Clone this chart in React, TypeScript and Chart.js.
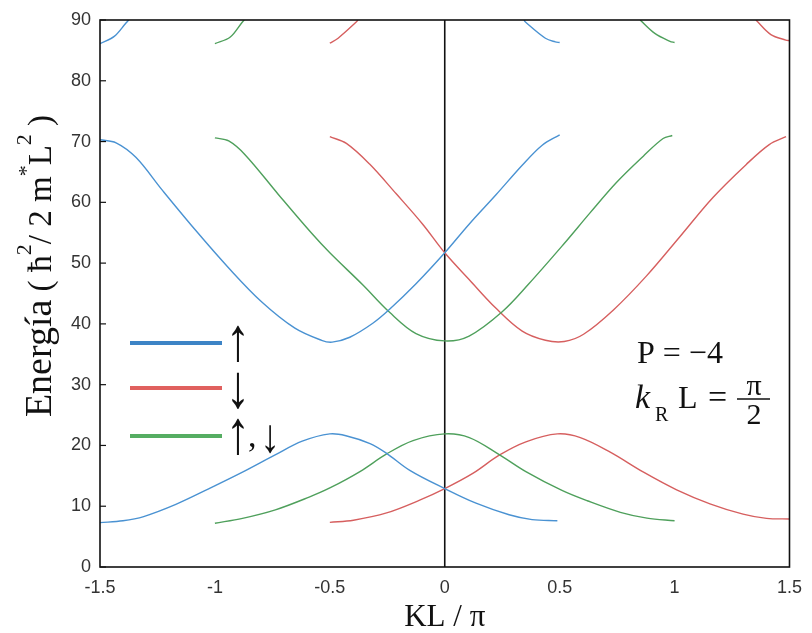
import React, { useEffect, useRef } from 'react';
import { Chart, registerables } from 'chart.js';

Chart.register(...registerables);

type Pt = [number, number];

// Axis definitions
const xMin = -1.5;
const xMax = 1.5;
const xStep = 0.5;
const yMin = 0;
const yMax = 90;
const yStep = 10;

// Band 1 (lower band)
const blueBand1: Pt[] = [
  [-1.5, 7.3], [-1.4, 7.6], [-1.31, 8.3], [-1.17, 10.3], [-1.025, 12.9], [-0.88, 15.6],
  [-0.74, 18.4], [-0.62, 20.7], [-0.5, 21.9], [-0.43, 21.6], [-0.325, 20.3], [-0.253, 18.7],
  [-0.152, 15.9], [0, 12.9], [0.136, 10.5], [0.28, 8.6], [0.38, 7.8], [0.49, 7.6],
];
const greenBand1: Pt[] = [
  [-1.0, 7.2], [-0.88, 8.0], [-0.737, 9.4], [-0.59, 11.5], [-0.5, 13.0], [-0.369, 15.7],
  [-0.253, 18.6], [-0.138, 20.8], [0, 21.9], [0.107, 21.3], [0.237, 18.5], [0.353, 15.7],
  [0.51, 12.6], [0.62, 10.9], [0.764, 9.0], [0.88, 8.05], [1.0, 7.6],
];
const redBand1: Pt[] = [
  [-0.5, 7.35], [-0.397, 7.7], [-0.253, 8.9], [-0.109, 11.0], [0, 12.9], [0.122, 15.4],
  [0.237, 18.4], [0.353, 20.6], [0.49, 21.9], [0.59, 21.3], [0.72, 18.9], [0.865, 15.6],
  [1.009, 12.7], [1.154, 10.4], [1.298, 8.7], [1.4, 8.0], [1.5, 7.9],
];

// Band 2
const blueBand2: Pt[] = [
  [-1.5, 70.3], [-1.43, 69.8], [-1.344, 67.4], [-1.229, 62.0], [-1.084, 55.4], [-0.94, 49.2],
  [-0.796, 43.6], [-0.652, 39.3], [-0.536, 37.3], [-0.49, 37.0], [-0.413, 37.8], [-0.313, 40.1],
  [-0.24, 42.4], [-0.125, 46.6], [0, 51.7], [0.106, 56.4], [0.222, 61.2], [0.337, 66.1],
  [0.424, 69.4], [0.5, 71.1],
];
const greenBand2: Pt[] = [
  [-1.0, 70.6], [-0.94, 70.1], [-0.868, 67.8], [-0.724, 61.3], [-0.579, 54.9], [-0.5, 51.7],
  [-0.356, 46.4], [-0.24, 41.9], [-0.125, 38.4], [0, 37.2], [0.106, 38.0], [0.25, 42.0],
  [0.366, 46.6], [0.517, 53.1], [0.633, 58.3], [0.748, 63.3], [0.864, 67.6], [0.95, 70.5],
  [0.99, 71.0],
];
const redBand2: Pt[] = [
  [-0.5, 70.8], [-0.428, 69.7], [-0.327, 66.3], [-0.211, 61.4], [-0.096, 56.4], [0, 51.7],
  [0.106, 47.3], [0.222, 42.6], [0.337, 38.8], [0.438, 37.3], [0.52, 37.1], [0.604, 38.3],
  [0.734, 42.3], [0.878, 47.9], [1.022, 54.3], [1.167, 60.8], [1.311, 66.2], [1.412, 69.5],
  [1.485, 70.8],
];

// Band 3 (partly above the plotted range)
const blueBand3a: Pt[] = [[-1.5, 86.1], [-1.438, 87.3], [-1.387, 89.5], [-1.375, 90]];
const blueBand3b: Pt[] = [[0.345, 90], [0.35, 89.7], [0.438, 87.0], [0.481, 86.4], [0.5, 86.3]];
const greenBand3a: Pt[] = [[-1.0, 86.1], [-0.933, 87.2], [-0.882, 89.6], [-0.872, 90]];
const greenBand3b: Pt[] = [[0.85, 90], [0.914, 87.8], [0.98, 86.5], [1.0, 86.3]];
const redBand3a: Pt[] = [[-0.5, 86.2], [-0.464, 87.0], [-0.384, 89.7], [-0.378, 90]];
const redBand3b: Pt[] = [[1.354, 90], [1.419, 87.6], [1.484, 86.7], [1.5, 86.6]];

// Vertical reference line at KL/π = 0
const zeroLine: Pt[] = [[0, 0], [0, 90]];

// Texts
const yTitleMain = 'Energía';
const xTitle = 'KL / π';
const upArrow = '↑';
const downArrow = '↓';
const paramP = 'P = −4';

// Colours
const BLUE = '#4a92d2';
const RED = '#d65f5f';
const GREEN = '#4fa05c';
const LEG_BLUE = '#3d84c6';
const LEG_RED = '#e0605e';
const LEG_GREEN = '#55ad62';

const SERIF = '"Liberation Serif", "Times New Roman", serif';
const SANS = '"Liberation Sans", Arial, sans-serif';

type Seg = { t: string; size: number; dy?: number; italic?: boolean };

function drawRich(ctx: CanvasRenderingContext2D, segs: Seg[], x: number, y: number, align: 'left' | 'center') {
  const widths = segs.map((s) => {
    ctx.font = `${s.italic ? 'italic ' : ''}${s.size}px ${SERIF}`;
    return ctx.measureText(s.t).width;
  });
  const total = widths.reduce((a, b) => a + b, 0);
  let cx = align === 'center' ? x - total / 2 : x;
  ctx.textAlign = 'left';
  ctx.textBaseline = 'alphabetic';
  segs.forEach((s, i) => {
    ctx.font = `${s.italic ? 'italic ' : ''}${s.size}px ${SERIF}`;
    ctx.fillText(s.t, cx, y + (s.dy || 0));
    cx += widths[i];
  });
}

function drawArrow(ctx: CanvasRenderingContext2D, t: string, x: number, baseline: number, size: number, sx: number) {
  ctx.save();
  ctx.translate(x, baseline);
  ctx.scale(sx, 1);
  ctx.font = `${size}px ${SERIF}`;
  ctx.textAlign = 'center';
  ctx.textBaseline = 'alphabetic';
  ctx.fillText(t, 0, 0);
  ctx.restore();
}

const mk = (data: Pt[], color: string, width = 1.4, smooth = true) => ({
  data: data.map(([x, y]) => ({ x, y })),
  borderColor: color,
  backgroundColor: color,
  borderWidth: width,
  pointRadius: 0,
  pointHoverRadius: 0,
  fill: false,
  tension: smooth ? 0.35 : 0,
  cubicInterpolationMode: 'default' as const,
});

const decorPlugin = {
  id: 'decor',
  afterDatasetsDraw(chart: any) {
    const { ctx, chartArea: a, scales } = chart;
    const ys = scales.y;
    ctx.save();
    // frame
    ctx.strokeStyle = '#111';
    ctx.lineWidth = 1.6;
    ctx.strokeRect(a.left, a.top, a.right - a.left, a.bottom - a.top);
    // inward ticks on the y axis
    ctx.lineWidth = 1.2;
    for (let v = yMin; v <= yMax; v += yStep) {
      const py = ys.getPixelForValue(v);
      ctx.beginPath();
      ctx.moveTo(a.left, py);
      ctx.lineTo(a.left + 6, py);
      ctx.stroke();
    }
    // legend
    const legColors = [LEG_BLUE, LEG_RED, LEG_GREEN];
    const legY = [343, 388, 436];
    legColors.forEach((c, i) => {
      ctx.strokeStyle = c;
      ctx.lineWidth = 4;
      ctx.beginPath();
      ctx.moveTo(130, legY[i]);
      ctx.lineTo(222, legY[i]);
      ctx.stroke();
    });
    ctx.fillStyle = '#111';
    drawArrow(ctx, upArrow, 238, 360, 61, 0.8);
    drawArrow(ctx, downArrow, 238, 407, 61, 0.8);
    drawArrow(ctx, upArrow, 238, 453, 61, 0.8);
    ctx.font = `34px ${SERIF}`;
    ctx.textAlign = 'left';
    ctx.fillText(',', 248, 447);
    drawArrow(ctx, downArrow, 270, 452, 47, 0.85);
    // parameters
    ctx.font = `32px ${SERIF}`;
    ctx.textAlign = 'left';
    ctx.fillText(paramP, 637, 363);
    ctx.font = `italic 34px ${SERIF}`;
    ctx.fillText('k', 635, 408);
    ctx.font = `20px ${SERIF}`;
    ctx.fillText('R', 655, 421);
    ctx.font = `32px ${SERIF}`;
    ctx.fillText('L', 678, 408);
    ctx.font = `34px ${SERIF}`;
    ctx.fillText('=', 708, 408);
    ctx.font = `30px ${SERIF}`;
    ctx.textAlign = 'center';
    ctx.fillText('π', 754, 395);
    ctx.fillText('2', 754, 424);
    ctx.strokeStyle = '#111';
    ctx.lineWidth = 1.5;
    ctx.beginPath();
    ctx.moveTo(737, 399);
    ctx.lineTo(770, 399);
    ctx.stroke();
    // x title
    ctx.textAlign = 'center';
    ctx.font = `31px ${SERIF}`;
    ctx.fillText(xTitle, (a.left + a.right) / 2, 626);
    // y title (rotated, mixed sizes)
    ctx.translate(51, 266);
    ctx.rotate(-Math.PI / 2);
    drawRich(ctx, [
      { t: yTitleMain, size: 38 },
      { t: ' ( ', size: 33 },
      { t: 'ħ', size: 34 },
      { t: '2', size: 22, dy: -20 },
      { t: '/ ', size: 33 },
      { t: '2 m', size: 33 },
      { t: '*', size: 22, dy: -18 },
      { t: 'L', size: 33 },
      { t: '2', size: 22, dy: -20 },
      { t: ' )', size: 33 },
    ], 0, 0, 'center');
    ctx.restore();
  },
};

export default function App() {
  const ref = useRef<HTMLCanvasElement | null>(null);
  useEffect(() => {
    document.body.style.margin = '0';
    const canvas = ref.current;
    if (!canvas) return;
    const chart = new Chart(canvas, {
      type: 'line',
      data: {
        datasets: [
          mk(blueBand1, BLUE), mk(greenBand1, GREEN), mk(redBand1, RED),
          mk(blueBand2, BLUE), mk(greenBand2, GREEN), mk(redBand2, RED),
          mk(blueBand3a, BLUE), mk(blueBand3b, BLUE),
          mk(greenBand3a, GREEN), mk(greenBand3b, GREEN),
          mk(redBand3a, RED), mk(redBand3b, RED),
          mk(zeroLine, '#111', 1.6, false),
        ] as any,
      },
      options: {
        animation: false,
        responsive: false,
        events: [],
        layout: { padding: { top: 20, right: 19, left: 0, bottom: 0 } },
        plugins: { legend: { display: false }, tooltip: { enabled: false }, title: { display: false } },
        scales: {
          x: {
            type: 'linear',
            min: xMin,
            max: xMax,
            grid: { display: false, drawTicks: false },
            border: { display: false },
            afterFit: (s: any) => { s.height = 66; },
            ticks: {
              stepSize: xStep,
              padding: 10,
              color: '#333',
              font: { family: SANS, size: 18 },
              callback: (v: any) => String(Math.round(Number(v) * 10) / 10),
            },
          },
          y: {
            type: 'linear',
            min: yMin,
            max: yMax,
            grid: { display: false, drawTicks: false },
            border: { display: false },
            afterFit: (s: any) => { s.width = 100; },
            ticks: {
              stepSize: yStep,
              padding: 9,
              color: '#333',
              font: { family: SANS, size: 18 },
            },
          },
        },
      },
      plugins: [decorPlugin],
    });
    return () => chart.destroy();
  }, []);
  return (
    <div style={{ width: 812, height: 633, background: '#fff' }}>
      <canvas ref={ref} width={812} height={633} style={{ display: 'block' }} />
    </div>
  );
}
